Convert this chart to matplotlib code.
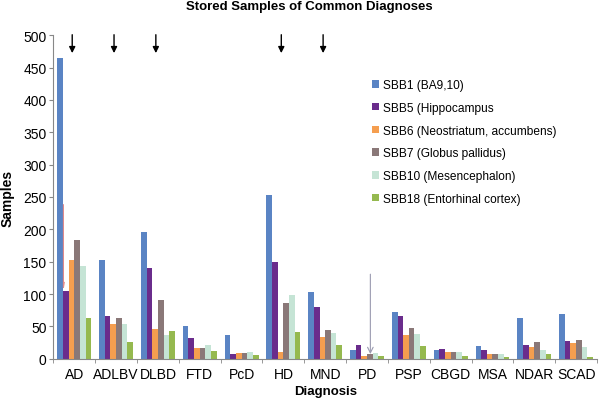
import matplotlib
matplotlib.use("Agg")
import matplotlib.pyplot as plt
import numpy as np

plt.rcParams['font.family'] = ['Liberation Sans', 'DejaVu Sans']

categories = ["AD", "ADLBV", "DLBD", "FTD", "PcD", "HD", "MND", "PD", "PSP", "CBGD", "MSA", "NDAR", "SCAD"]
series_names = ["SBB1 (BA9,10)", "SBB5 (Hippocampus", "SBB6 (Neostriatum, accumbens)",
                "SBB7 (Globus pallidus)", "SBB10 (Mesencephalon)", "SBB18 (Entorhinal cortex)"]
sbb1 = [465, 152, 196, 51, 37, 253, 103, 14, 73, 13, 19, 63, 69]
sbb5 = [104, 66, 141, 32, 7, 150, 80, 21, 66, 15, 14, 21, 27]
sbb6 = [153, 53, 46, 16, 9, 10, 34, 4, 36, 10, 8, 18, 24]
sbb7 = [183, 63, 91, 17, 9, 86, 45, 7, 47, 11, 8, 26, 29]
sbb10 = [144, 54, 36, 22, 10, 98, 40, 9, 38, 10, 7, 13, 18]
sbb18 = [63, 26, 43, 12, 6, 42, 21, 5, 19, 4, 3, 8, 3]
arrow_cats = ["AD", "ADLBV", "DLBD", "HD", "MND"]

colors = ["#5A84C4", "#6A2C8C", "#F59E4F", "#8A7878", "#C5E4D5", "#95B94F"]
data = [sbb1, sbb5, sbb6, sbb7, sbb10, sbb18]

fig = plt.figure(figsize=(6, 4.02), dpi=100)
ax = fig.add_axes([0.089, 0.105, 0.906, 0.805])

x = np.arange(len(categories))
w = 0.135
for i, (vals, c, name) in enumerate(zip(data, colors, series_names)):
    ax.bar(x - 0.405 + w * (i + 0.5), vals, width=w, color=c, label=name, edgecolor='none')

ax.set_xlim(-0.5, len(categories) - 0.5)
ax.set_ylim(0, 500)
ax.set_yticks(range(0, 501, 50))
ax.set_xticks(x)
ax.set_xticklabels(categories, fontsize=10)
ax.tick_params(axis='x', length=0, pad=6)
ax.set_xticks(np.arange(-0.5, len(categories) + 0.5, 1), minor=True)
ax.tick_params(axis='x', which='minor', length=3, color='#888888')
ax.tick_params(axis='y', labelsize=10, length=3, color='#888888', pad=2)
for s in ['top', 'right']:
    ax.spines[s].set_visible(False)
for s in ['left', 'bottom']:
    ax.spines[s].set_color('#888888')
    ax.spines[s].set_linewidth(0.8)

ax.set_xlabel("Diagnosis", fontsize=9.5, fontweight='bold', labelpad=3)
ax.set_ylabel("Samples", fontsize=10, fontweight='bold', labelpad=6)
fig.suptitle("Stored Samples of Common Diagnoses", fontsize=9.5, fontweight='bold', x=0.515, y=0.997)

for cat in arrow_cats:
    xi = categories.index(cat) - 0.05
    ax.annotate("", xy=(xi, 468), xytext=(xi, 505), annotation_clip=False,
                arrowprops=dict(arrowstyle='-|>', color='black', lw=1.0, mutation_scale=9))

# stray marks visible in the original
ax.plot([-0.26, -0.26, -0.24], [238, 110, 118], color='#E08A8A', lw=0.8)
pdx = categories.index("PD") + 0.08
ax.annotate("", xy=(pdx, 3), xytext=(pdx, 135),
            arrowprops=dict(arrowstyle='->', color='#9A9AB0', lw=0.8))

leg = ax.legend(loc='upper left', bbox_to_anchor=(0.57, 0.89), frameon=False, fontsize=8.6,
                handlelength=0.6, handleheight=0.6, handletextpad=0.35, labelspacing=0.9,
                borderpad=0.2)

fig.savefig("out.png", dpi=100)
